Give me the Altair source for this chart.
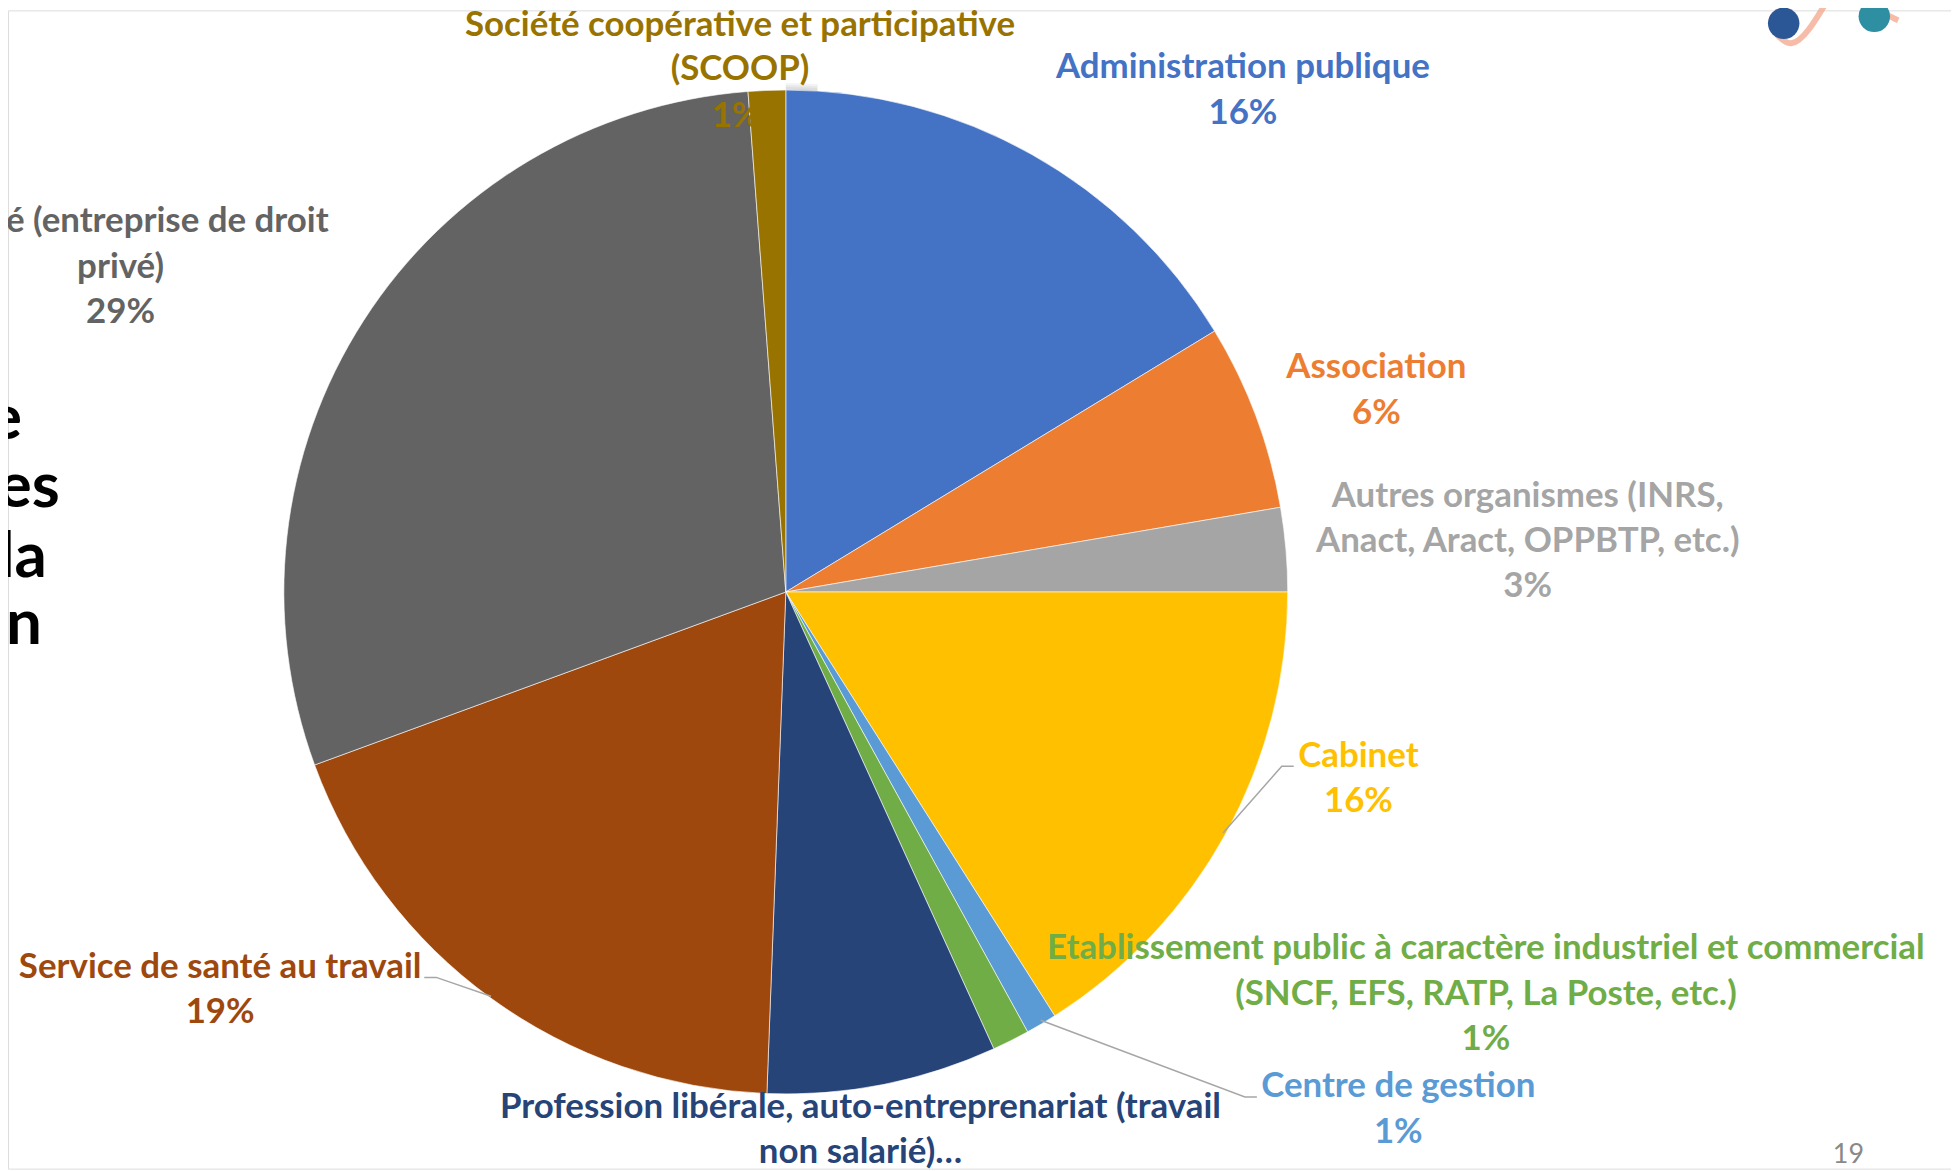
import altair as alt
import pandas as pd

# ---- data ----
categories = [
    "Administration publique", "Association", "Autres organismes",
    "Cabinet", "Centre de gestion", "Etablissement public (EPIC)",
    "Profession libérale", "Service de santé au travail",
    "Privé", "SCOOP",
]
values = [16.3, 6.0, 2.7, 16.0, 1.0, 1.2, 7.4, 18.8, 29.4, 1.2]
colors = ["#4472C4", "#ED7D31", "#A5A5A5", "#FFC000", "#5B9BD5",
          "#70AD47", "#264478", "#9E480E", "#636363", "#997300"]

# label lines (text, colour)
label_text = [
    "Société coopérative et participative", "(SCOOP)", "1%",
    "Administration publique", "16%",
    "Association", "6%",
    "Autres organismes (INRS,", "Anact, Aract, OPPBTP, etc.)", "3%",
    "Cabinet", "16%",
    "Etablissement public à caractère industriel et commercial",
    "(SNCF, EFS, RATP, La Poste, etc.)", "1%",
    "Centre de gestion", "1%",
    "Profession libérale, auto-entreprenariat (travail", "non salarié)…",
    "Service de santé au travail", "19%",
    "Privé (entreprise de droit", "privé)", "29%",
]
label_color = [
    "#997300", "#997300", "#997300",
    "#4472C4", "#4472C4",
    "#ED7D31", "#ED7D31",
    "#A5A5A5", "#A5A5A5", "#A5A5A5",
    "#FFC000", "#FFC000",
    "#70AD47", "#70AD47", "#70AD47",
    "#5B9BD5", "#5B9BD5",
    "#264478", "#264478",
    "#9E480E", "#9E480E",
    "#636363", "#636363", "#636363",
]
# label layout (page pixels)
label_x = [743, 743, 739, 1248, 1248, 1382, 1382, 1534, 1534, 1534,
           1364, 1364, 1492, 1492, 1492, 1404, 1404, 864, 864,
           221, 221, 330, 121, 121]
label_y = [23, 67, 114, 65, 111, 366, 412, 496, 541, 586,
           757, 802, 950, 996, 1041, 1088, 1134, 1109, 1154,
           969, 1014, 220, 266, 311]
label_align = ["center"] * 21 + ["right", "center", "center"]

# cut-off slide title fragments
title_text = ["e", "es", "la", "on"]
title_x = [22, 60, 47, 42]
title_y = [419, 488, 558, 625]

# leader lines
leader_grp = ["cab", "cab", "cab", "cg", "cg", "cg", "sst", "sst", "sst"]
leader_x = [1299, 1287, 1228, 1262, 1250, 1045, 426, 438, 493]
leader_y = [767, 767, 834, 1099, 1099, 1022, 979, 979, 998]

OFF = 8  # page margin
CX, CY, R = 789 - OFF, 592 - OFF, 504

pie_df = pd.DataFrame({"cat": categories, "value": values,
                       "idx": list(range(len(values)))})
lab_df = pd.DataFrame({"text": label_text, "color": label_color,
                       "x": [v - OFF for v in label_x],
                       "y": [v - OFF for v in label_y],
                       "align": label_align})
title_df = pd.DataFrame({"text": title_text,
                         "x": [v - OFF for v in title_x],
                         "y": [v - OFF for v in title_y]})
lead_df = pd.DataFrame({"g": leader_grp, "o": list(range(len(leader_x))),
                        "x": [v - OFF for v in leader_x],
                        "y": [v - OFF for v in leader_y]})
page_df = pd.DataFrame({"text": ["19"], "x": [1856 - OFF], "y": [1157 - OFF]})
logo_df = pd.DataFrame({"x": [1791 - OFF, 1882 - OFF, 1741 - OFF],
                        "y": [21 - OFF, 14 - OFF, -5 - OFF],
                        "c": ["#2B5797", "#2E8FA3", "#3A7BD5"],
                        "s": [1000, 1000, 160]})
swoosh_df = pd.DataFrame({"g": ["a", "a", "a", "a", "b", "b", "b"],
                          "o": [0, 1, 2, 3, 4, 5, 6],
                          "x": [1784 - OFF, 1798 - OFF, 1816 - OFF, 1836 - OFF,
                                1862 - OFF, 1885 - OFF, 1906 - OFF],
                          "y": [32 - OFF, 46 - OFF, 30 - OFF, -4 - OFF,
                                -2 - OFF, 8 - OFF, 18 - OFF]})
shadow_df = pd.DataFrame({"v": [1]})

FONT = "Lato"
FS = 35
px = lambda f: alt.X(f, scale=None, axis=None)
py = lambda f: alt.Y(f, scale=None, axis=None)

shadow_layers = [
    alt.Chart(shadow_df).mark_arc(radius=R + k, color="#000000", opacity=0.045)
    .encode(theta=alt.Theta("v:Q"), x=alt.value(CX), y=alt.value(CY + 1))
    for k in (2, 4, 6, 8)
]

pie = alt.Chart(pie_df).mark_arc(radius=R, stroke="white", strokeWidth=0.6).encode(
    theta=alt.Theta("value:Q", stack=True),
    order=alt.Order("idx:Q"),
    color=alt.Color("cat:N", scale=alt.Scale(domain=categories, range=colors),
                    legend=None),
    x=alt.value(CX), y=alt.value(CY),
)

leaders = alt.Chart(lead_df).mark_line(color="#A6A6A6", strokeWidth=1.5).encode(
    x=px("x:Q"), y=py("y:Q"), detail="g:N", order="o:Q")

labels_c = alt.Chart(lab_df).transform_filter(alt.datum.align == "center").mark_text(
    font=FONT, fontWeight="bold", fontSize=FS, align="center", baseline="middle"
).encode(x=px("x:Q"), y=py("y:Q"), text="text:N",
         color=alt.Color("color:N", scale=None))

labels_r = alt.Chart(lab_df).transform_filter(alt.datum.align == "right").mark_text(
    font=FONT, fontWeight="bold", fontSize=FS, align="right", baseline="middle"
).encode(x=px("x:Q"), y=py("y:Q"), text="text:N",
         color=alt.Color("color:N", scale=None))

title = alt.Chart(title_df).mark_text(
    font=FONT, fontWeight="bold", fontSize=64, align="right", baseline="middle",
    color="#000000"
).encode(x=px("x:Q"), y=py("y:Q"), text="text:N")

page = alt.Chart(page_df).mark_text(
    font=FONT, fontSize=27, align="center", baseline="middle", color="#898989"
).encode(x=px("x:Q"), y=py("y:Q"), text="text:N")

swoosh = alt.Chart(swoosh_df).mark_line(
    color="#F4A68A", strokeWidth=6, interpolate="basis", opacity=0.75
).encode(x=px("x:Q"), y=py("y:Q"), detail="g:N", order="o:Q")

logo = alt.Chart(logo_df).mark_circle(opacity=1).encode(
    x=px("x:Q"), y=py("y:Q"), color=alt.Color("c:N", scale=None),
    size=alt.Size("s:Q", scale=None))

chart = alt.layer(
    *shadow_layers, pie, leaders, labels_c, labels_r, title, page, swoosh, logo
).properties(
    width=1951, height=1163,
    autosize=alt.AutoSizeParams(type="none"),
    padding=0,
).configure_view(stroke=None).configure(background="white")

chart.save("out.html", embed_options={"renderer": "svg", "actions": False})
